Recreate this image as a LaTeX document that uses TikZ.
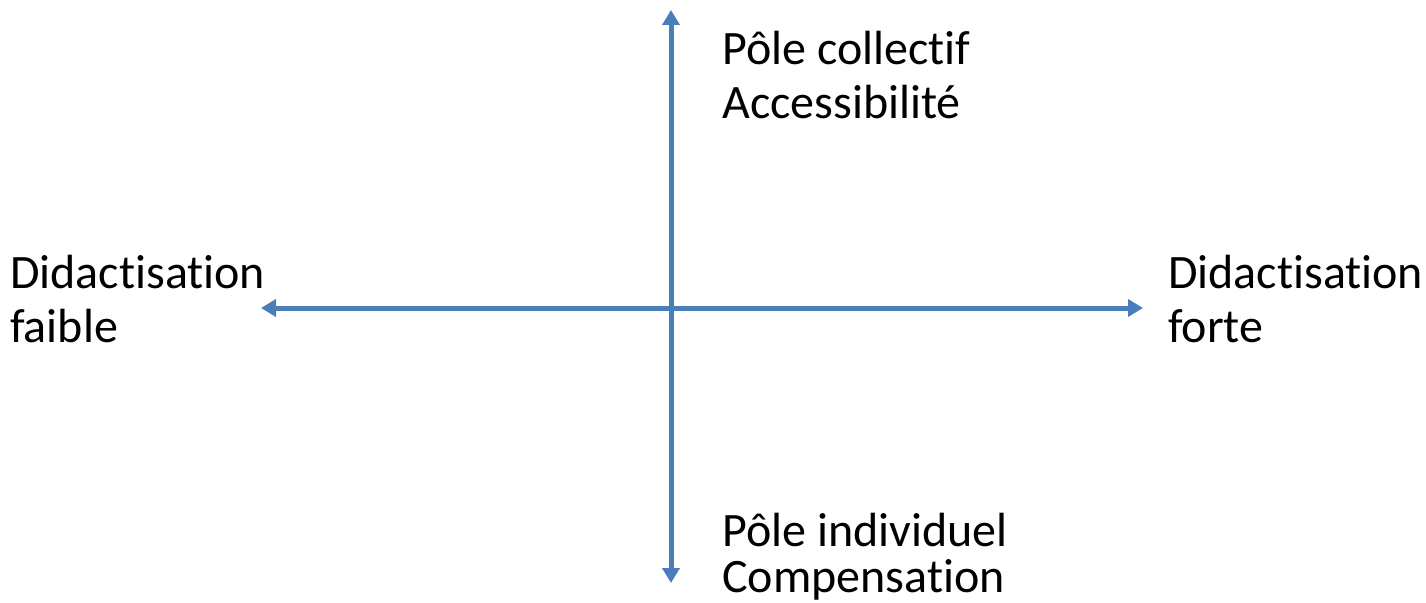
\documentclass[tikz,border=0pt]{standalone}
\usepackage{fontspec}
\setmainfont[Ligatures={NoCommon,NoContextual}, Contextuals=NoAlternate]{Carlito}
\usetikzlibrary{arrows.meta}
\definecolor{axisblue}{HTML}{4A7EBB}
\tikzset{
  axisline/.style={draw=axisblue, line width=5pt, {Triangle[width=17pt,length=15pt]}-{Triangle[width=17pt,length=15pt]}},
  lbl/.style={font=\fontsize{48}{54}\selectfont, align=left, inner sep=0pt, text=black}
}
\begin{document}
\begin{tikzpicture}[x=1pt,y=-1pt]
\useasboundingbox (0,0) rectangle (1426,602);
\coordinate (top) at (671,10);
\coordinate (bot) at (671,583);
\coordinate (lft) at (261,308);
\coordinate (rgt) at (1143,308);
\draw[axisline] (lft) -- (rgt);
\draw[axisline] (bot) -- (top);
\node[lbl, anchor=base west] (coll) at (722,64) {Pôle collectif};
\node[lbl, anchor=base west] (acc) at (722,118) {Accessibilité};
\node[lbl, anchor=base west] (dfa) at (10,288) {Didactisation};
\node[lbl, anchor=base west] (fai) at (10,342) {faible};
\node[lbl, anchor=base west] (dfo) at (1168,288) {Didactisation};
\node[lbl, anchor=base west] (for) at (1168,342) {forte};
\node[lbl, anchor=base west] (ind) at (722,546) {Pôle individuel};
\node[lbl, anchor=base west] (comp) at (722,592) {Compensation};
\end{tikzpicture}
\end{document}
